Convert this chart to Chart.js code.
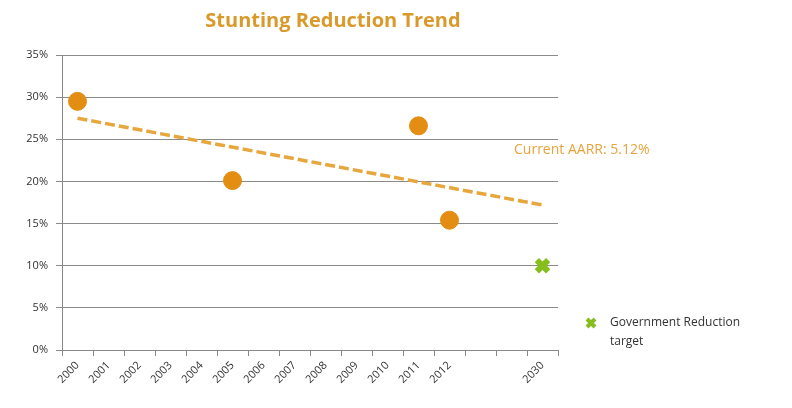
<!DOCTYPE html>
<html>
<head>
<meta charset="utf-8">
<script src="https://cdn.jsdelivr.net/npm/chart.js@4.4.1/dist/chart.umd.min.js"></script>
<style>
  body { margin: 0; background: #fff; }
  #wrap { position: relative; width: 792px; height: 408px; }
</style>
</head>
<body>
<div id="wrap"><canvas id="stuntChart" width="792" height="408"></canvas></div>
<script>
// years on the x axis (two blank slots before 2030)
const years = ["2000", "2001", "2002", "2003", "2004", "2005", "2006", "2007", "2008", "2009", "2010", "2011", "2012", "", "", "2030"];
// stunting rates (%)
const stunting = [29.5, null, null, null, null, 20.1, null, null, null, null, null, 26.6, 15.4, null, null, null];
// government target
const target = [null, null, null, null, null, null, null, null, null, null, null, null, null, null, null, 10];
// linear trend end points
const trend = [27.5, null, null, null, null, null, null, null, null, null, null, null, null, null, null, 17.2];
const yTicks = [0, 5, 10, 15, 20, 25, 30, 35];

const orange = "#E38D12";
const green = "#86BE1E";
const labelFont = "'Open Sans', 'Liberation Sans', sans-serif";

// draws the title, the AARR note and the legend for the target
const notesPlugin = {
  id: "notes",
  afterDraw: (chart) => {
    const ctx = chart.ctx;
    ctx.save();
    ctx.textBaseline = "middle";

    ctx.font = "bold 20px " + labelFont;
    ctx.fillStyle = "#D99A2B";
    ctx.textAlign = "center";
    ctx.fillText("Stunting Reduction Trend", 333, 21);
    ctx.textAlign = "left";

    ctx.font = "14px " + labelFont;
    ctx.fillStyle = "#E8A33C";
    ctx.fillText("Current AARR: 5.12%", 514, 150);

    // legend marker
    ctx.strokeStyle = green;
    ctx.lineWidth = 4;
    ctx.beginPath();
    ctx.moveTo(587, 319); ctx.lineTo(595, 327);
    ctx.moveTo(595, 319); ctx.lineTo(587, 327);
    ctx.stroke();

    ctx.font = "12px " + labelFont;
    ctx.fillStyle = "#333";
    ctx.fillText("Government Reduction", 610, 323);
    ctx.fillText("target", 610, 342);
    ctx.restore();
  },
};

const config = {
  type: "line",
  data: {
    labels: years,
    datasets: [
      {
        label: "Trend",
        data: trend,
        spanGaps: true,
        borderColor: "#E6A73E",
        borderWidth: 3.5,
        borderDash: [10, 4],
        pointRadius: 0,
        fill: false,
      },
      {
        label: "Stunting",
        data: stunting,
        showLine: false,
        pointRadius: 9,
        pointBackgroundColor: orange,
        pointBorderColor: orange,
      },
      {
        label: "Government Reduction target",
        data: target,
        showLine: false,
        pointStyle: "crossRot",
        pointRadius: 8,
        pointBorderWidth: 6,
        pointBorderColor: green,
        pointBackgroundColor: green,
      },
    ],
  },
  options: {
    responsive: false,
    animation: false,
    layout: { padding: { left: 0, right: 234, top: 55, bottom: 0 } },
    plugins: {
      legend: { display: false },
      tooltip: { enabled: false },
      title: { display: false },
    },
    scales: {
      x: {
        offset: true,
        afterFit: (axis) => { axis.height = 58; },
        grid: { display: true, drawOnChartArea: false, offset: true, tickLength: 6, color: "#888" },
        border: { color: "#888" },
        ticks: {
          minRotation: 45,
          maxRotation: 45,
          autoSkip: false,
          color: "#333",
          font: { size: 11, family: labelFont },
        },
      },
      y: {
        min: 0,
        max: 35,
        afterFit: (axis) => { axis.width = 62; },
        afterBuildTicks: (axis) => {
          axis.ticks = yTicks.map((v) => ({ value: v }));
        },
        grid: { color: "#8a8a8a", tickLength: 6, lineWidth: 1 },
        border: { color: "#888" },
        ticks: {
          callback: (value) => `${value}%`,
          color: "#333",
          padding: 8,
          font: { size: 11, family: labelFont },
        },
      },
    },
  },
  plugins: [notesPlugin],
};

new Chart(document.getElementById("stuntChart"), config);
</script>
</body>
</html>
